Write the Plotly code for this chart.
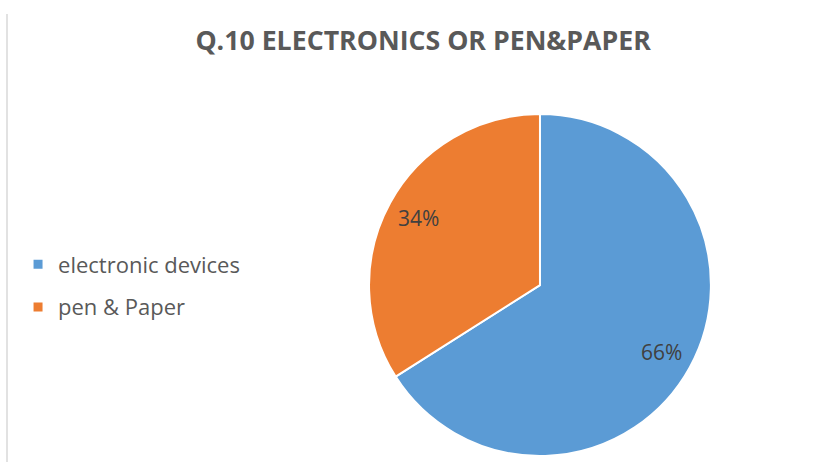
import math
import plotly.graph_objects as go

# Survey answers to question 10
labels = ["electronic devices", "pen & Paper"]
values = [66, 34]
colors = ["#5B9BD5", "#ED7D31"]
title_text = "Q.10 ELECTRONICS OR PEN&amp;PAPER"

W, H = 820, 462
dom_x = [0.45, 0.867]
dom_y = [0.013, 0.753]

fig = go.Figure()
fig.add_trace(go.Pie(
    labels=labels,
    values=values,
    marker=dict(colors=colors, line=dict(color="white", width=2)),
    sort=False,
    direction="clockwise",
    rotation=0,
    textinfo="none",
    hoverinfo="label+percent",
    showlegend=False,
    domain=dict(x=dom_x, y=dom_y),
))

# Legend entries (one group per slice so they can be spaced apart)
for i, (lab, col) in enumerate(zip(labels, colors)):
    fig.add_trace(go.Scatter(
        x=[None], y=[None], mode="markers", name=lab,
        marker=dict(symbol="square", size=9, color=col),
        legendgroup=f"g{i}", showlegend=True,
    ))

# Percentage labels placed at 81% of the radius, at each slice's mid-angle
cx_px = (dom_x[0] + dom_x[1]) / 2 * W
cy_px = (1 - (dom_y[0] + dom_y[1]) / 2) * H
r_px = min((dom_x[1] - dom_x[0]) * W, (dom_y[1] - dom_y[0]) * H) / 2
total = sum(values)
cum = 0
annotations = []
for v in values:
    mid = (cum + v / 2) / total * 2 * math.pi
    cum += v
    px = cx_px + 0.81 * r_px * math.sin(mid)
    py = cy_px - 0.81 * r_px * math.cos(mid)
    annotations.append(dict(
        x=px / W, y=1 - py / H, xref="paper", yref="paper",
        xanchor="center", yanchor="middle",
        text=f"{round(v / total * 100)}%", showarrow=False,
        font=dict(family="Open Sans", size=21, color="#404040"),
    ))

fig.update_layout(
    width=W, height=H,
    margin=dict(l=0, r=0, t=0, b=0),
    paper_bgcolor="white", plot_bgcolor="white",
    xaxis=dict(visible=False), yaxis=dict(visible=False),
    title=dict(text=f"<b>{title_text}</b>", x=0.516, xanchor="center",
               y=1 - 41 / H, yanchor="middle",
               font=dict(family="Open Sans", size=26.7, color="#595959")),
    legend=dict(x=0.022, y=1 - 286 / H, xanchor="left", yanchor="middle",
                tracegroupgap=11, bgcolor="rgba(0,0,0,0)",
                font=dict(family="Open Sans", size=22, color="#595959")),
    annotations=annotations,
    shapes=[dict(type="line", xref="paper", yref="paper",
                 x0=7 / W, x1=7 / W, y0=0, y1=1 - 14 / H,
                 line=dict(color="#D9D9D9", width=1.5))],
)

fig.write_html("out.html")
